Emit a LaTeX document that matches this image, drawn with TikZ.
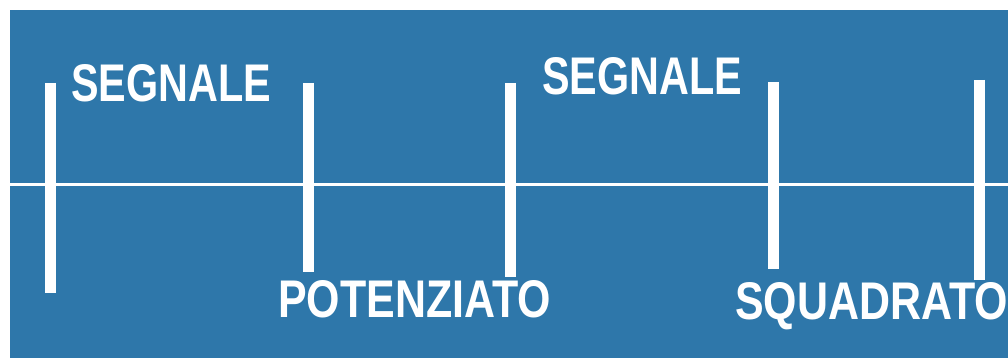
\documentclass[tikz,border=0pt]{standalone}
\usepackage{fontspec}
\usepackage{tikz}
\usetikzlibrary{positioning}
\newfontfamily\labelfont{Liberation Sans}[FakeStretch=0.78]
\newfontfamily\widelabelfont{Liberation Sans}[FakeStretch=0.81]
\definecolor{panelblue}{RGB}{46,119,170}
\tikzset{
    panelbox/.style={fill=panelblue, draw=none},
    baseline/.style={draw=white, line width=3pt},
    pulsebar/.style={draw=white, line width=11pt},
    pulselabel/.style={text=white, inner sep=0pt, anchor=base west, font=\labelfont\bfseries\fontsize{53}{53}\selectfont},
    widelabel/.style={pulselabel, font=\widelabelfont\bfseries\fontsize{53}{53}\selectfont}
}
\begin{document}
\begin{tikzpicture}[x=1pt, y=-1pt]
    \useasboundingbox[fill=white] (0,0) rectangle (1008,358);
    \fill[panelbox] (10,10) rectangle (1008,358);

    \draw[baseline] (10,184.5) -- (1008,184.5);

    \draw[pulsebar] (50,83) -- (50,293);
    \draw[pulsebar] (308,83) -- (308,272);
    \draw[pulsebar] (510,83) -- (510,277);
    \draw[pulsebar] (773,82) -- (773,269);
    \draw[pulsebar] (979,80) -- (979,280);

    \node[pulselabel] (inlabel) at (71,102) {SEGNALE};
    \node[widelabel] (amplabel) at (278,317) {POTENZIATO};
    \node[pulselabel] (sqlabel) at (542,95) {SEGNALE};
    \node[widelabel] (sqoutlabel) at (735,319) {SQUADRATO};
\end{tikzpicture}
\end{document}
